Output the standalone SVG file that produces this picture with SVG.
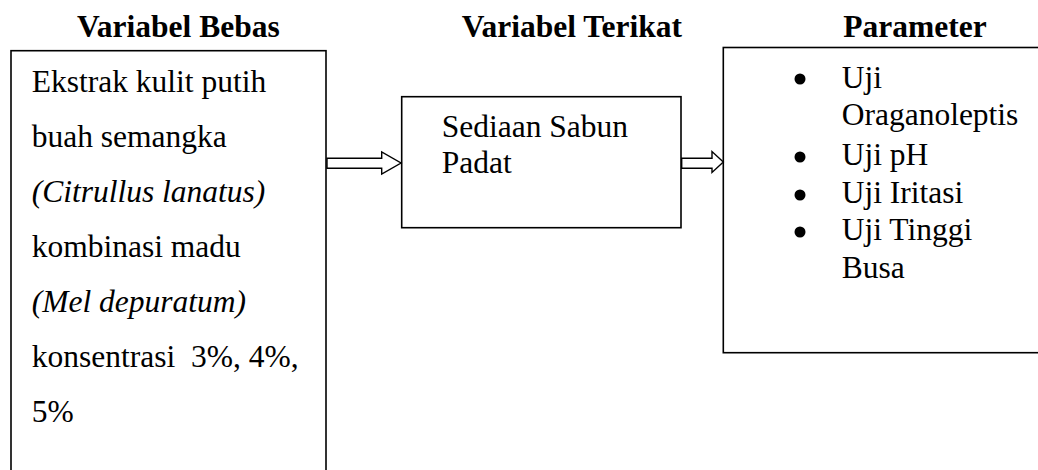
<svg xmlns="http://www.w3.org/2000/svg" width="1038" height="470" viewBox="0 0 1038 470">
<style>
.box{fill:#fff;stroke:#000;stroke-width:1.6}
.t{font-size:31.5px;fill:#000}
.h{font-weight:bold}
.i{font-style:italic}
.arr{fill:#fff;stroke:#000;stroke-width:1.4;stroke-linejoin:miter}
</style>
<rect width="1038" height="470" fill="#fff"/>
<g font-family="'Liberation Serif', Tinos, 'Times New Roman', Times, serif">
<g id="titles">
<text class="t h" x="77" y="36.7">Variabel Bebas</text>
<text class="t h" x="461.7" y="36.7">Variabel Terikat</text>
<text class="t h" x="843.3" y="36.7">Parameter</text>
</g>
<g id="node-bebas">
<rect class="box" x="11" y="50.7" width="315" height="430"/>
<text class="t" x="31.7" y="91.7">Ekstrak kulit putih</text>
<text class="t" x="31.7" y="146.7">buah semangka</text>
<text class="t i" x="31.7" y="201.7">(Citrullus lanatus)</text>
<text class="t" x="31.7" y="256.7">kombinasi madu</text>
<text class="t i" x="31.7" y="311.7">(Mel depuratum)</text>
<text class="t" x="31.7" y="366.7" xml:space="preserve">konsentrasi  3%, 4%,</text>
<text class="t" x="31.7" y="421.7">5%</text>
</g>
<g id="node-terikat">
<rect class="box" x="401.7" y="96.7" width="279.3" height="131"/>
<text class="t" x="441.7" y="136.7">Sediaan Sabun</text>
<text class="t" x="441.7" y="173.3">Padat</text>
</g>
<g id="node-parameter">
<rect class="box" x="723.3" y="47.5" width="330" height="305.2"/>
<circle cx="800" cy="79" r="5.5"/>
<text class="t" x="841.7" y="87.5">Uji</text>
<text class="t" x="841.7" y="125">Oraganoleptis</text>
<circle cx="800" cy="157" r="5.5"/>
<text class="t" x="841.7" y="165">Uji pH</text>
<circle cx="800" cy="195" r="5.5"/>
<text class="t" x="841.7" y="202.7">Uji Iritasi</text>
<circle cx="800" cy="232" r="5.5"/>
<text class="t" x="841.7" y="240.3">Uji Tinggi</text>
<text class="t" x="841.7" y="278">Busa</text>
</g>
</g>
<g id="connectors">
<polygon class="arr" points="327,158.3 381.7,158.3 381.7,152 401,163 381.7,174 381.7,168.3 327,168.3"/>
<polygon class="arr" points="681.7,158.3 712,158.3 712,151.5 723.3,162 712,172.5 712,168.3 681.7,168.3"/>
</g>
</svg>
